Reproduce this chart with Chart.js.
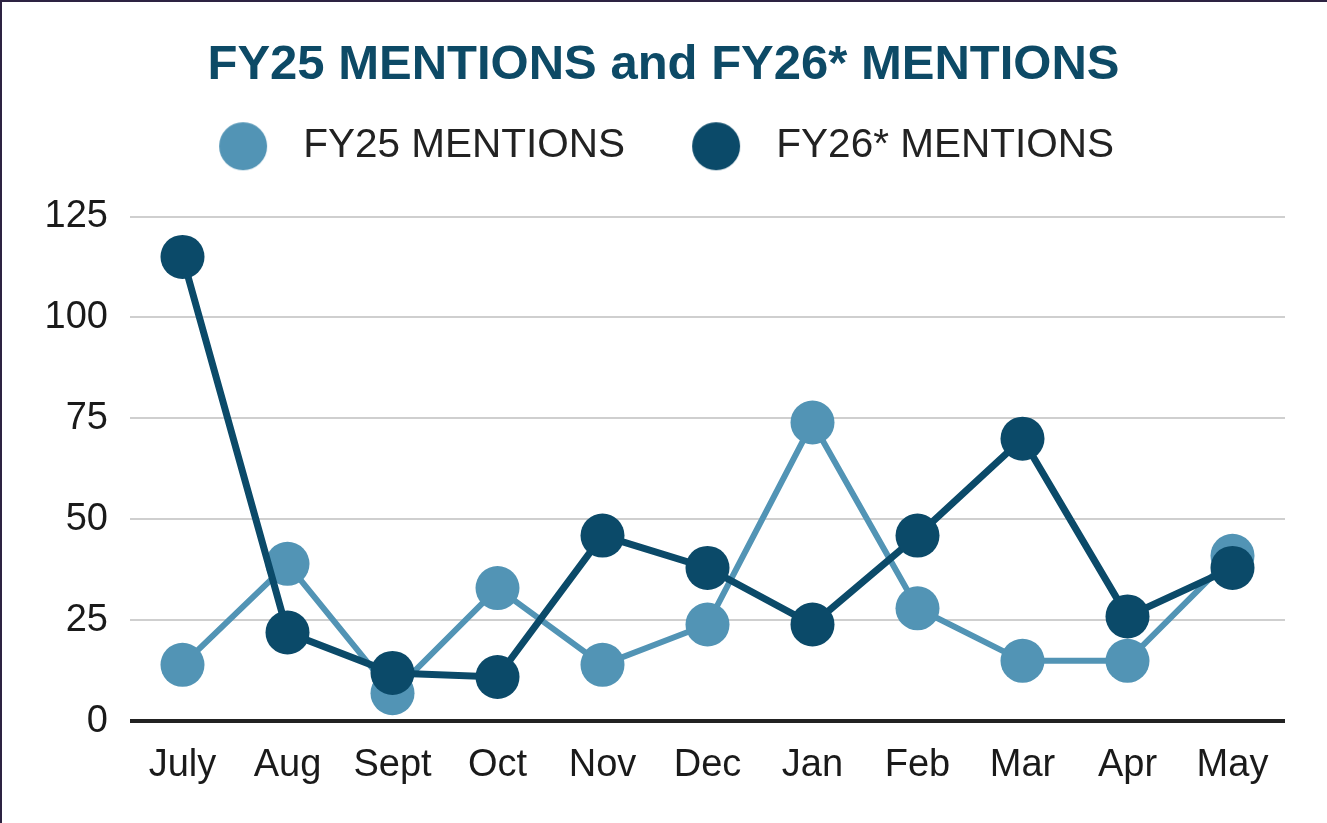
<!DOCTYPE html>
<html>
<head>
    <meta charset="UTF-8">
    <title>FY25 MENTIONS and FY26* MENTIONS</title>
    <script src="https://cdn.jsdelivr.net/npm/chart.js"></script>
    <style>
        body { margin: 0; background: #fff; }
        .frame { position: relative; width: 1327px; height: 823px; }
        .frame canvas { display: block; }
        /* thin dark edge along top and left */
        .frame::before {
            content: '';
            position: absolute;
            inset: 0;
            border-top: 2px solid #2d2342;
            border-left: 2px solid #2d2342;
            pointer-events: none;
        }
    </style>
</head>
<body>
    <div class="frame">
        <canvas id="mentionsChart" width="1327" height="823"></canvas>
    </div>

    <script>
        const months = ['July', 'Aug', 'Sept', 'Oct', 'Nov', 'Dec', 'Jan', 'Feb', 'Mar', 'Apr', 'May'];
        const fy25Mentions = [14, 39, 7, 33, 14, 24, 74, 28, 15, 15, 41];
        const fy26Mentions = [115, 22, 12, 11, 46, 38, 24, 46, 70, 26, 38];
        const yTicks = [0, 25, 50, 75, 100, 125];

        const lightBlue = '#5294b5';
        const darkBlue = '#0b4a69';
        const fontFamily = "'Liberation Sans', Arial, sans-serif";

        // round legend marker with some room on its right before the text
        function legendDot(color) {
            const c = document.createElement('canvas');
            c.width = 70;
            c.height = 50;
            const g = c.getContext('2d');
            g.fillStyle = color;
            g.beginPath();
            g.arc(30, 25, 24, 0, Math.PI * 2);
            g.fill();
            return c;
        }

        // extra space between legend and plot
        const legendGap = {
            id: 'legendGap',
            beforeInit(chart) {
                const fit = chart.legend.fit;
                chart.legend.fit = function () {
                    fit.call(this);
                    this.height += 40;
                };
            }
        };

        new Chart(document.getElementById('mentionsChart'), {
            type: 'line',
            data: {
                labels: months,
                datasets: [
                    {
                        label: 'FY25 MENTIONS',
                        data: fy25Mentions,
                        borderColor: lightBlue,
                        backgroundColor: lightBlue,
                        borderWidth: 6,
                        pointRadius: 22,
                        pointBorderWidth: 0,
                        tension: 0,
                        order: 1
                    },
                    {
                        label: 'FY26* MENTIONS',
                        data: fy26Mentions,
                        borderColor: darkBlue,
                        backgroundColor: darkBlue,
                        borderWidth: 7,
                        pointRadius: 22,
                        pointBorderWidth: 0,
                        tension: 0,
                        order: 0
                    }
                ]
            },
            options: {
                responsive: false,
                animation: false,
                devicePixelRatio: 1,
                layout: {
                    padding: { top: 0, left: 42, right: 42, bottom: 22 }
                },
                plugins: {
                    title: {
                        display: true,
                        text: 'FY25 MENTIONS and FY26* MENTIONS',
                        color: '#0d4a66',
                        font: { family: fontFamily, size: 49, weight: 'bold', lineHeight: 0 },
                        padding: { top: 65, bottom: 0 }
                    },
                    legend: {
                        display: true,
                        position: 'top',
                        labels: {
                            usePointStyle: true,
                            pointStyleWidth: 70,
                            padding: 61,
                            color: '#222',
                            font: { family: fontFamily, size: 40.5 },
                            sort: (a, b) => a.datasetIndex - b.datasetIndex,
                            generateLabels(chart) {
                                const items = Chart.defaults.plugins.legend.labels.generateLabels(chart);
                                items.forEach((item) => {
                                    item.pointStyle = legendDot(chart.data.datasets[item.datasetIndex].backgroundColor);
                                });
                                return items;
                            }
                        }
                    },
                    tooltip: { enabled: false }
                },
                scales: {
                    x: {
                        offset: true,
                        grid: { display: false },
                        border: { display: false },
                        ticks: {
                            color: '#1a1a1a',
                            padding: 13,
                            font: { family: fontFamily, size: 38 }
                        }
                    },
                    y: {
                        min: yTicks[0],
                        max: yTicks[yTicks.length - 1],
                        border: { display: false },
                        afterFit(scale) {
                            scale.width = 88;
                        },
                        grid: {
                            drawTicks: false,
                            color: (ctx) => ctx.tick && ctx.tick.value === 0 ? '#222' : '#cfcfcf',
                            lineWidth: (ctx) => ctx.tick && ctx.tick.value === 0 ? 4 : 2
                        },
                        ticks: {
                            stepSize: yTicks[1] - yTicks[0],
                            color: '#1a1a1a',
                            padding: 22,
                            font: { family: fontFamily, size: 38 }
                        }
                    }
                }
            },
            plugins: [legendGap]
        });
    </script>
</body>
</html>
